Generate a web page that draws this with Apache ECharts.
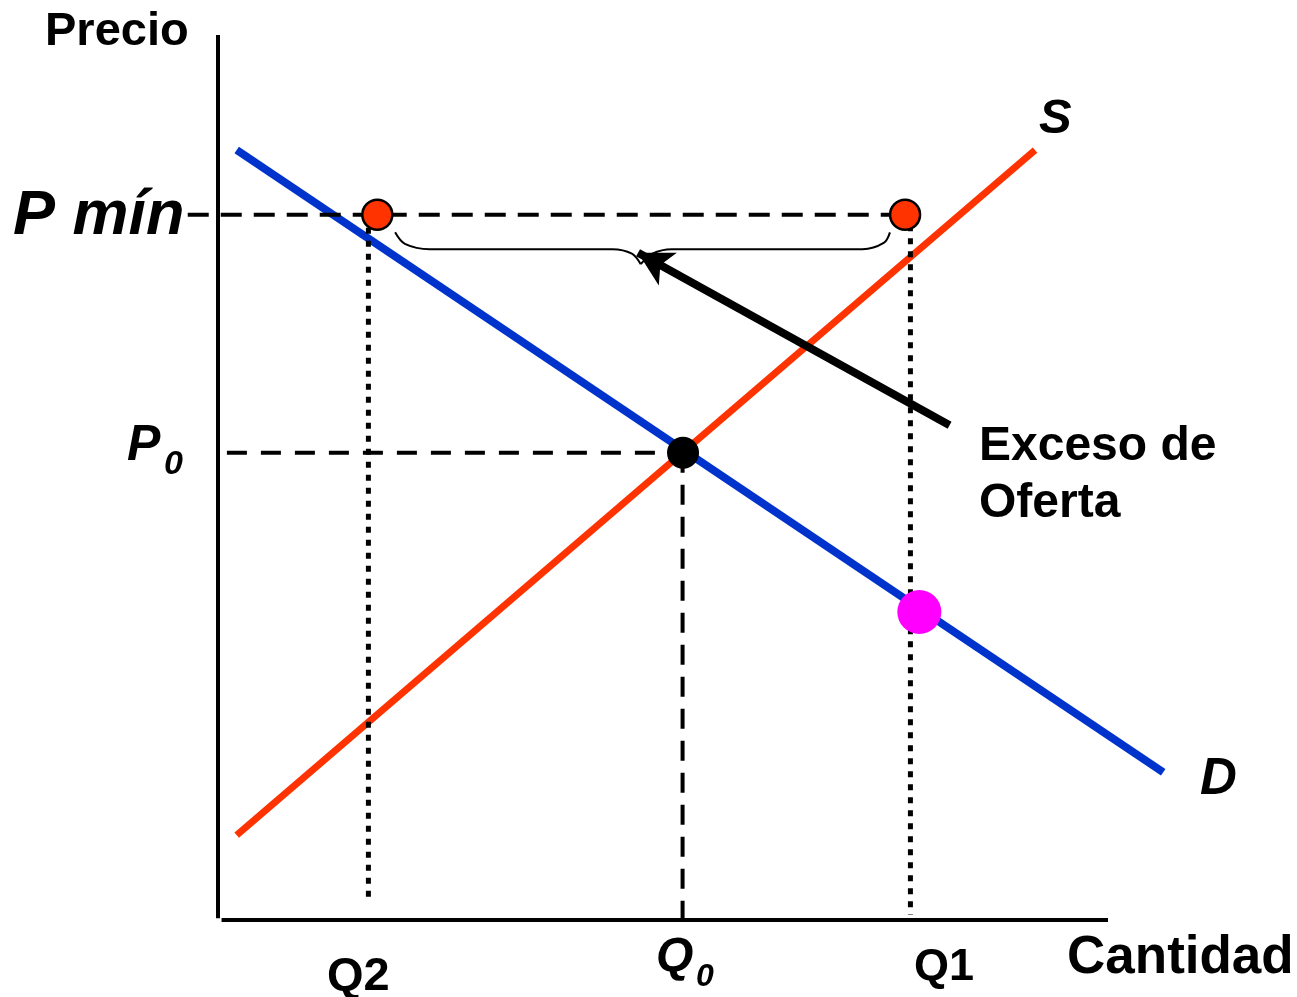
<!DOCTYPE html>
<html>
<head>
<meta charset="utf-8">
<script src="https://cdn.jsdelivr.net/npm/echarts@6/dist/echarts.min.js"></script>
<style>html,body{margin:0;padding:0;background:#fff}#c{width:1297px;height:997px}</style>
</head>
<body>
<div id="c"></div>
<script>
// Units: quantity (x) 0..100, price (y) 0..100
const xAxisLine = [[0.4, 0], [100, 0]];
const yAxisLine = [[0, 0.2], [0, 100]];
const demand = [[2.1, 87.0], [106.2, 16.7]];
const supply = [[2.1, 9.6], [91.8, 87.0]];
const pMin = 79.7, p0 = 52.8;
const q0 = 52.2, q1 = 77.8, q2 = 16.9;
const pMinLine = [[-3.4, pMin], [75.5, pMin]];
const p0Line = [[1.0, p0], [q0, p0]];
const q0Line = [[q0, p0], [q0, 0.2]];
const q2Line = [[q2, pMin], [q2, 2.3]];
const q1Line = [[q1, 78.5], [q1, 0.6]];
const braceLeft = [[19.9, 77.7], [21.0, 76.4], [23.8, 75.8], [44.3, 75.8], [46.5, 75.3], [47.5, 74.1]];
const braceRight = [[47.5, 74.1], [48.8, 75.3], [51.0, 75.8], [72.4, 75.8], [74.8, 76.5], [75.5, 77.7]];
const arrowFrom = [82.2, 55.9], arrowTo = [47.2, 75.4];
const redPoints = [[17.9, 79.7], [77.2, 79.7]];
const eqPoint = [[52.25, 52.8]];
const pinkPoint = [[78.8, 34.8]];

const FONT = '"Liberation Sans", Arial, sans-serif';
function txt(text, x, y, size, italic) {
  return {
    type: 'text', x: x, y: y, z: 100,
    style: { text: text, fill: '#000', font: (italic ? 'italic ' : '') + 'bold ' + size + 'px ' + FONT,
             textAlign: 'left', textVerticalAlign: 'middle' }
  };
}

// scale: 8.9 px per quantity unit, 8.85 px per price unit; origin at (218, 920)
const X_MIN = -20, X_MAX = 120, Y_MIN = -5, Y_MAX = 100;
const chart = echarts.init(document.getElementById('c'), null, { renderer: 'canvas' });
const lineBase = { type: 'line', symbol: 'none', clip: false, silent: true, animation: false };
const hiddenAxis = { type: 'value', axisLine: { show: false }, axisTick: { show: false }, axisLabel: { show: false }, splitLine: { show: false } };
chart.setOption({
  animation: false,
  grid: { left: 218 + X_MIN * 8.9, width: (X_MAX - X_MIN) * 8.9, top: 920 - Y_MAX * 8.85, height: (Y_MAX - Y_MIN) * 8.85 },
  xAxis: Object.assign({ min: X_MIN, max: X_MAX }, hiddenAxis),
  yAxis: Object.assign({ min: Y_MIN, max: Y_MAX }, hiddenAxis),
  series: [
    Object.assign({}, lineBase, { data: xAxisLine, lineStyle: { color: '#000', width: 4, cap: 'butt' }, z: 1 }),
    Object.assign({}, lineBase, { data: yAxisLine, lineStyle: { color: '#000', width: 4, cap: 'butt' }, z: 1 }),
    Object.assign({}, lineBase, { name: 'D', data: demand, lineStyle: { color: '#0033CC', width: 8 }, z: 2 }),
    Object.assign({}, lineBase, { name: 'S', data: supply, lineStyle: { color: '#FF3300', width: 7 }, z: 2 }),
    Object.assign({}, lineBase, { data: pMinLine, lineStyle: { color: '#000', width: 4, type: [21, 12] }, z: 3 }),
    Object.assign({}, lineBase, { data: p0Line, lineStyle: { color: '#000', width: 4, type: [20, 14] }, z: 3 }),
    Object.assign({}, lineBase, { data: q0Line, lineStyle: { color: '#000', width: 4, type: [20, 12] }, z: 3 }),
    Object.assign({}, lineBase, { data: q2Line, lineStyle: { color: '#000', width: 5, type: [6, 7] }, z: 3 }),
    Object.assign({}, lineBase, { data: q1Line, lineStyle: { color: '#000', width: 5, type: [6, 7] }, z: 3 }),
    Object.assign({}, lineBase, { data: braceLeft, smooth: 0.35, lineStyle: { color: '#000', width: 2 }, z: 4 }),
    Object.assign({}, lineBase, { data: braceRight, smooth: 0.35, lineStyle: { color: '#000', width: 2 }, z: 4 }),
    Object.assign({}, lineBase, {
      data: [], z: 5,
      markLine: { silent: true, animation: false, symbol: ['none', 'arrow'], symbolSize: [28, 34],
        label: { show: false }, lineStyle: { color: '#000', width: 8, type: 'solid' },
        data: [[{ coord: arrowFrom }, { coord: arrowTo }]] }
    }),
    { type: 'scatter', data: redPoints, symbolSize: 30, clip: false, z: 6,
      itemStyle: { color: '#FF3300', borderColor: '#000', borderWidth: 2.5, opacity: 1 } },
    { type: 'scatter', data: eqPoint, symbolSize: 32, clip: false, z: 6, itemStyle: { color: '#000', opacity: 1 } },
    { type: 'scatter', data: pinkPoint, symbolSize: 44, clip: false, z: 6, itemStyle: { color: '#FF00FF', opacity: 1 } }
  ],
  graphic: [
    txt('Precio', 45, 32, 47, false),
    txt('P mín', 13, 217, 63, true),
    txt('S', 1039, 119, 49, true),
    txt('D', 1200, 780, 51, true),
    txt('P', 127, 446, 50, true),
    txt('0', 164, 465, 34, true),
    txt('Q', 656, 958, 48, true),
    txt('0', 696, 977, 32, true),
    txt('Q2', 327, 977, 47, false),
    txt('Q1', 914, 968, 45, false),
    txt('Cantidad', 1067, 958, 53, false),
    txt('Exceso de', 979, 447, 48, false),
    txt('Oferta', 979, 504, 48, false)
  ]
});
</script>
</body>
</html>
